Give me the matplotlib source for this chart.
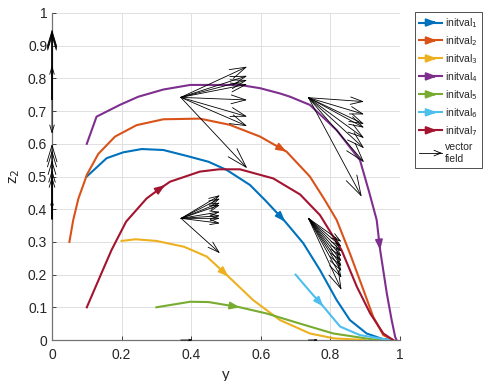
import numpy as np
import matplotlib
matplotlib.use("Agg")
import matplotlib.pyplot as plt
from matplotlib.lines import Line2D
from matplotlib.patches import FancyArrowPatch
from matplotlib.legend_handler import HandlerBase

plt.rcParams['font.family'] = ['Liberation Sans', 'DejaVu Sans']

# ---------------- data ----------------
labels = ["initval$_1$", "initval$_2$", "initval$_3$", "initval$_4$",
          "initval$_5$", "initval$_6$", "initval$_7$"]
colors = ["#0072BD", "#D95319", "#EDB120", "#7E2F8E", "#77AC30", "#4DBEEE", "#A2142F"]

blue_y = [0.1, 0.157, 0.205, 0.258, 0.32, 0.387, 0.45, 0.502, 0.569, 0.612, 0.67, 0.722,
          0.77, 0.818, 0.856, 0.904, 0.95, 0.98]
blue_z = [0.5, 0.556, 0.574, 0.584, 0.581, 0.563, 0.545, 0.52, 0.474, 0.428, 0.362, 0.296,
          0.214, 0.122, 0.061, 0.02, 0.003, 0.0]

orange_y = [0.05, 0.061, 0.076, 0.095, 0.1, 0.133, 0.181, 0.243, 0.32, 0.425, 0.511, 0.598,
            0.674, 0.741, 0.784, 0.818, 0.856, 0.895, 0.923, 0.952, 0.98]
orange_z = [0.3, 0.367, 0.433, 0.489, 0.505, 0.569, 0.622, 0.657, 0.675, 0.677, 0.658, 0.622,
            0.576, 0.5, 0.428, 0.367, 0.265, 0.153, 0.071, 0.015, 0.0]

yellow_y = [0.2, 0.24, 0.3, 0.38, 0.445, 0.507, 0.578, 0.655, 0.741, 0.81, 0.9]
yellow_z = [0.303, 0.308, 0.303, 0.285, 0.255, 0.194, 0.122, 0.061, 0.02, 0.005, 0.0]

purple_y = [0.1, 0.128, 0.195, 0.248, 0.32, 0.397, 0.54, 0.598, 0.655, 0.684, 0.741, 0.818,
            0.885, 0.912, 0.933, 0.943, 0.962, 0.976, 0.986, 0.99]
purple_z = [0.6, 0.683, 0.719, 0.744, 0.766, 0.78, 0.78, 0.77, 0.754, 0.744, 0.719, 0.642,
            0.55, 0.45, 0.367, 0.275, 0.143, 0.061, 0.01, 0.0]

green_y = [0.3, 0.397, 0.45, 0.54, 0.617, 0.713, 0.808, 0.92, 0.97]
green_z = [0.1, 0.117, 0.116, 0.1, 0.081, 0.05, 0.02, 0.002, 0.0]

lblue_y = [0.7, 0.74, 0.78, 0.828, 0.885, 0.97]
lblue_z = [0.2, 0.15, 0.102, 0.041, 0.015, 0.0]

red_y = [0.1, 0.138, 0.171, 0.213, 0.272, 0.305, 0.339, 0.425, 0.48, 0.54, 0.636, 0.713,
         0.77, 0.832, 0.876, 0.914, 0.952, 0.98]
red_z = [0.1, 0.194, 0.275, 0.362, 0.433, 0.459, 0.484, 0.515, 0.522, 0.522, 0.494, 0.445,
         0.382, 0.275, 0.163, 0.082, 0.02, 0.0]

curves_y = [blue_y, orange_y, yellow_y, purple_y, green_y, lblue_y, red_y]
curves_z = [blue_z, orange_z, yellow_z, purple_z, green_z, lblue_z, red_z]
# y position of the direction arrow on each trajectory
arrow_at = [0.67, 0.674, 0.507, 0.943, 0.54, 0.78, 0.325]

# vector field: base points and arrow tips
vf_base = [(0.37, 0.742), (0.737, 0.741), (0.371, 0.372), (0.737, 0.372),
           (0.0, 0.37), (0.0, 0.735), (0.37, 0.0), (0.737, 0.0)]
vf_tips = [
    [(0.561, 0.836), (0.561, 0.808), (0.561, 0.795), (0.561, 0.782), (0.561, 0.734),
     (0.561, 0.683), (0.561, 0.654), (0.561, 0.525)],
    [(0.897, 0.729), (0.897, 0.69), (0.897, 0.66), (0.897, 0.649), (0.897, 0.617),
     (0.897, 0.586), (0.897, 0.543), (0.89, 0.438)],
    [(0.483, 0.443), (0.483, 0.433), (0.483, 0.42), (0.483, 0.413), (0.483, 0.392),
     (0.483, 0.38), (0.483, 0.372), (0.483, 0.357), (0.483, 0.265)],
    [(0.832, 0.30), (0.832, 0.285), (0.832, 0.27), (0.832, 0.255), (0.832, 0.24),
     (0.832, 0.225), (0.832, 0.21), (0.832, 0.19), (0.832, 0.153)],
    [(0.0, 0.6), (0.0, 0.58), (0.0, 0.55), (0.0, 0.52), (0.0, 0.5), (0.0, 0.43)],
    [(0.0, 0.95), (0.0, 0.945), (0.0, 0.94), (0.0, 0.935), (0.0, 0.84), (0.0, 0.63)],
    [(0.405, 0.0)],
    [(0.765, 0.0)],
]

xticks = [0, 0.2, 0.4, 0.6, 0.8, 1]
xticklabels = ["0", "0.2", "0.4", "0.6", "0.8", "1"]
yticks = [0, 0.1, 0.2, 0.3, 0.4, 0.5, 0.6, 0.7, 0.8, 0.9, 1]
yticklabels = ["0", "0.1", "0.2", "0.3", "0.4", "0.5", "0.6", "0.7", "0.8", "0.9", "1"]

# ---------------- figure ----------------
fig = plt.figure(figsize=(4.84, 3.81), dpi=100)
ax = fig.add_axes([52 / 484, 41 / 381, 348 / 484, 327 / 381])
ax.set_xlim(0, 1)
ax.set_ylim(0, 1)

axcol = (0.15, 0.15, 0.15)
for s in ["top", "right"]:
    ax.spines[s].set_visible(False)
for s in ["left", "bottom"]:
    ax.spines[s].set_color((0.45, 0.45, 0.45))
    ax.spines[s].set_linewidth(0.9)
ax.grid(True, color=(0.88, 0.88, 0.88), linewidth=0.7)
ax.set_axisbelow(True)
ax.set_xticks(xticks)
ax.set_xticklabels(xticklabels)
ax.set_yticks(yticks)
ax.set_yticklabels(yticklabels)
ax.tick_params(direction="in", length=3, width=0.6, colors=axcol, labelsize=10,
               labelcolor=axcol)
ax.tick_params(axis="x", pad=6)
ax.set_xlabel("y", fontsize=11, color=axcol, labelpad=4)
ax.set_ylabel("z$_2$", fontsize=11, color=axcol, labelpad=4)

# trajectories
for yy, zz, c, xa in zip(curves_y, curves_z, colors, arrow_at):
    yy = np.asarray(yy)
    zz = np.asarray(zz)
    ax.plot(yy, zz, color=c, lw=1.5, zorder=3)
    i = int(np.searchsorted(yy, xa)) - 1
    i = max(0, min(i, len(yy) - 2))
    t = (xa - yy[i]) / (yy[i + 1] - yy[i])
    pz = zz[i] + t * (zz[i + 1] - zz[i])
    d = np.array([yy[i + 1] - yy[i], zz[i + 1] - zz[i]])
    d = d / np.hypot(*d) * 0.01
    ax.annotate("", xy=(xa, pz), xytext=(xa - d[0], pz - d[1]),
                arrowprops=dict(arrowstyle="-|>,head_length=0.75,head_width=0.28",
                                mutation_scale=8, color=c, lw=1.2,
                                shrinkA=0, shrinkB=0), zorder=4)

# vector field arrows
sx, sy = 348.0, 327.0
for (bx, bz), tips in zip(vf_base, vf_tips):
    for (tx, tz) in tips:
        L_px = np.hypot((tx - bx) * sx, (tz - bz) * sy)
        hl_px = min(0.22 * L_px, 20.0)
        hl = hl_px * 72 / 100.0
        hw = 0.3 * hl
        ax.annotate("", xy=(tx, tz), xytext=(bx, bz),
                    arrowprops=dict(arrowstyle=f"->,head_length={hl:.3f},head_width={hw:.3f}",
                                    mutation_scale=1, color="k", lw=0.6,
                                    shrinkA=0, shrinkB=0),
                    annotation_clip=False, zorder=5)


# ---------------- legend ----------------
class HandlerArrow(HandlerBase):
    def __init__(self, color, lw, style, frac, ms):
        super().__init__()
        self.color, self.lw, self.style, self.frac, self.ms = color, lw, style, frac, ms

    def create_artists(self, legend, orig_handle, xdescent, ydescent, width, height,
                       fontsize, trans):
        y = height / 2 - ydescent
        x0, x1 = -xdescent, width - xdescent
        line = Line2D([x0, x1], [y, y], color=self.color, lw=self.lw, transform=trans)
        xt = x0 + self.frac * (x1 - x0)
        arr = FancyArrowPatch((xt - 3, y), (xt, y), arrowstyle=self.style,
                              mutation_scale=self.ms, color=self.color, lw=self.lw,
                              shrinkA=0, shrinkB=0, transform=trans)
        return [line, arr]


handles = [Line2D([], [], color=c) for c in colors] + [Line2D([], [], color="k")]
hmap = {}
for h, c in zip(handles[:-1], colors):
    hmap[h] = HandlerArrow(c, 1.5, "-|>,head_length=0.75,head_width=0.28", 0.78, 8)
hmap[handles[-1]] = HandlerArrow("k", 0.6, "->,head_length=0.5,head_width=0.2", 1.0, 10)

leg = fig.legend(handles, labels + ["vector\nfield"], handler_map=hmap,
                 loc="upper left", bbox_to_anchor=(415 / 484, 1 - 12 / 381),
                 bbox_transform=fig.transFigure, fontsize=7.5, handlelength=2.2,
                 handletextpad=0.3, labelspacing=0.4, borderpad=0.4,
                 borderaxespad=0, fancybox=False, frameon=True)
leg.get_frame().set_edgecolor("k")
leg.get_frame().set_linewidth(0.6)
for t in leg.get_texts():
    t.set_color(axcol)

fig.savefig("out.png", dpi=100)
